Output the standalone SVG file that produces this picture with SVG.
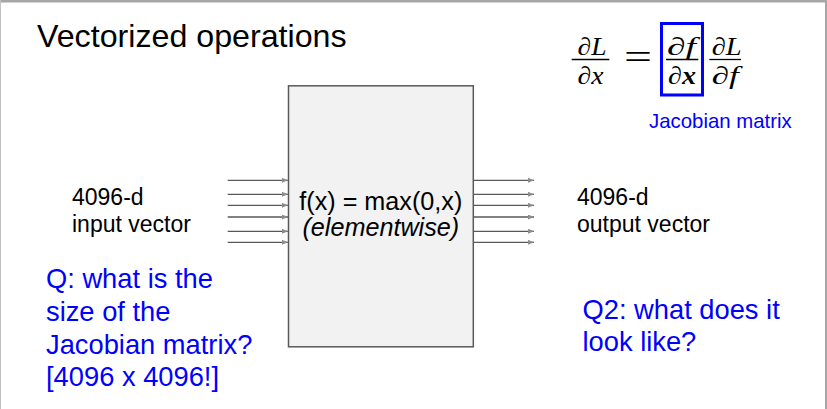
<svg xmlns="http://www.w3.org/2000/svg" width="827" height="409" viewBox="0 0 827 409">
  <style>
    .sans { font-family: "Liberation Sans", Arial, sans-serif; }
    .blk { fill: #000000; }
    .blue { fill: #0000ff; }
    .math { font-family: "Liberation Serif", "DejaVu Serif", serif; font-style: italic; font-size: 25px; fill: #000000; }
    .wire { stroke: #595959; stroke-width: 1.3; fill: none; marker-end: url(#ah); }
    .bar { stroke: #000000; stroke-width: 1.3; }
  </style>
  <defs>
    <marker id="ah" markerWidth="6" markerHeight="5" refX="6" refY="2.5" orient="auto" markerUnits="userSpaceOnUse">
      <path d="M0,0 L6,2.5 L0,5 z" fill="#8c8c8c"/>
    </marker>
  </defs>

  <rect x="0" y="0" width="827" height="409" fill="#ffffff"/>
  <!-- frame -->
  <rect x="0" y="0" width="827" height="2.5" fill="#a6a6a6"/>
  <rect x="0" y="0" width="1" height="409" fill="#c0c0c0"/>
  <rect x="825" y="0" width="2" height="409" fill="#a6a6a6"/>

  <g id="title">
    <text class="sans blk" x="37" y="47" font-size="32.2">Vectorized operations</text>
  </g>

  <g id="equation">
    <text class="math" x="577.5" y="54.5" textLength="29" lengthAdjust="spacingAndGlyphs">∂L</text>
    <line class="bar" x1="571.7" y1="59.5" x2="609.3" y2="59.5"/>
    <text class="math" x="577.5" y="84" textLength="26" lengthAdjust="spacingAndGlyphs">∂x</text>
    <text x="624" y="69" font-family="Liberation Serif, serif" font-size="36" textLength="28" lengthAdjust="spacingAndGlyphs" fill="#000000">=</text>
    <text class="math" x="667" y="54.5" textLength="29" lengthAdjust="spacingAndGlyphs">∂f</text>
    <line class="bar" x1="666" y1="59.5" x2="698.3" y2="59.5"/>
    <text class="math" x="668" y="84" textLength="28" lengthAdjust="spacingAndGlyphs">∂<tspan font-weight="bold">x</tspan></text>
    <text class="math" x="711.7" y="54.5" textLength="30" lengthAdjust="spacingAndGlyphs">∂L</text>
    <line class="bar" x1="709.3" y1="59.5" x2="741" y2="59.5"/>
    <text class="math" x="711.7" y="84" textLength="27" lengthAdjust="spacingAndGlyphs">∂f</text>
    <rect x="661.5" y="23.5" width="41" height="71.5" fill="none" stroke="#0000ff" stroke-width="3"/>
    <text class="sans blue" x="649" y="128" font-size="20.4">Jacobian matrix</text>
  </g>

  <g id="relu-box">
    <rect x="288.5" y="85.8" width="184.8" height="261" fill="#f2f2f2" stroke="#595959" stroke-width="1.5"/>
    <text class="sans blk" x="380.8" y="209.5" font-size="25.2" text-anchor="middle">f(x) = max(0,x)</text>
    <text class="sans blk" x="380.8" y="235.5" font-size="25.2" font-style="italic" text-anchor="middle">(elementwise)</text>
  </g>

  <g id="connectors">
    <line class="wire" x1="227.7" y1="180.3" x2="288" y2="180.3"/>
    <line class="wire" x1="227.7" y1="194.3" x2="288" y2="194.3"/>
    <line class="wire" x1="227.7" y1="205.3" x2="288" y2="205.3"/>
    <line class="wire" x1="227.7" y1="217" x2="288" y2="217"/>
    <line class="wire" x1="227.7" y1="231.3" x2="288" y2="231.3"/>
    <line class="wire" x1="227.7" y1="242.3" x2="288" y2="242.3"/>
    <line class="wire" x1="474" y1="180.3" x2="534" y2="180.3"/>
    <line class="wire" x1="474" y1="194.3" x2="534" y2="194.3"/>
    <line class="wire" x1="474" y1="205.3" x2="534" y2="205.3"/>
    <line class="wire" x1="474" y1="217" x2="534" y2="217"/>
    <line class="wire" x1="474" y1="231.3" x2="534" y2="231.3"/>
    <line class="wire" x1="474" y1="242.3" x2="534" y2="242.3"/>
  </g>

  <g id="input-label">
    <text class="sans blk" x="72" y="205" font-size="23">4096-d</text>
    <text class="sans blk" x="72" y="232" font-size="23">input vector</text>
  </g>

  <g id="output-label">
    <text class="sans blk" x="577" y="205" font-size="23">4096-d</text>
    <text class="sans blk" x="577" y="232" font-size="23">output vector</text>
  </g>

  <g id="q1">
    <text class="sans blue" x="46" y="288.3" font-size="27.3">Q: what is the</text>
    <text class="sans blue" x="46" y="321" font-size="27.3">size of the</text>
    <text class="sans blue" x="46" y="353.5" font-size="27.3">Jacobian matrix?</text>
    <text class="sans blue" x="46" y="385.5" font-size="27.3">[4096 x 4096!]</text>
  </g>

  <g id="q2">
    <text class="sans blue" x="582.5" y="319" font-size="27.3">Q2: what does it</text>
    <text class="sans blue" x="582.5" y="351" font-size="27.3">look like?</text>
  </g>
</svg>
